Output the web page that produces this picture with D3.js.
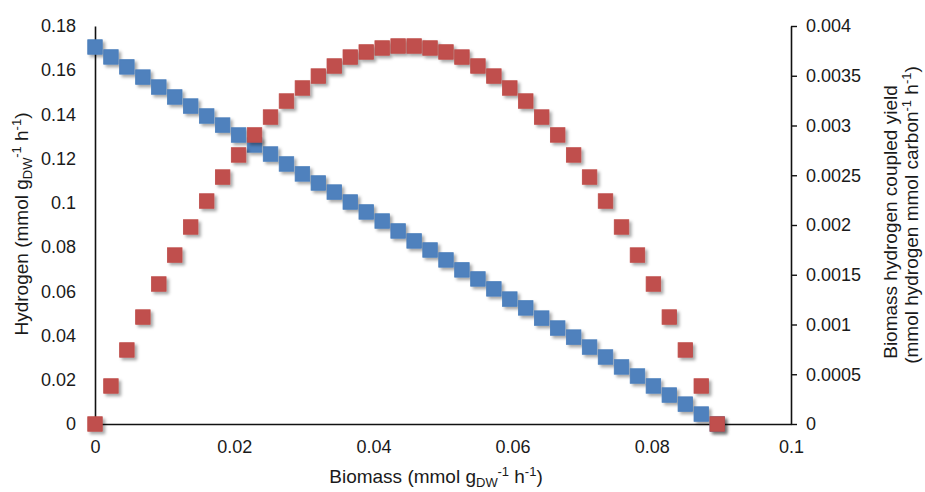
<!DOCTYPE html>
<html>
<head>
<meta charset="utf-8">
<script src="https://cdn.jsdelivr.net/npm/d3@7/dist/d3.min.js"></script>
<style>
  body { margin: 0; background: #fff; }
  text { font-family: "Liberation Sans", Arial, sans-serif; fill: #1a1a1a; }
</style>
</head>
<body>
<svg id="chart" width="925" height="492"></svg>
<script>
// biomass flux (x) for each point
var biomass = [0, 0.00229, 0.00458, 0.00688, 0.00917, 0.01146, 0.01375, 0.01605, 0.01834, 0.02063,
  0.02292, 0.02522, 0.02751, 0.0298, 0.03209, 0.03438, 0.03668, 0.03897, 0.04126, 0.04355,
  0.04585, 0.04814, 0.05043, 0.05272, 0.05502, 0.05731, 0.0596, 0.06189, 0.06418, 0.06648,
  0.06877, 0.07106, 0.07335, 0.07565, 0.07794, 0.08023, 0.08252, 0.08482, 0.08711, 0.0894];

// hydrogen flux (left axis)
var hydrogen = [0.1705, 0.166, 0.1615, 0.1569, 0.1524, 0.1479, 0.1438, 0.1393, 0.1352, 0.1307,
  0.1262, 0.1221, 0.1176, 0.1131, 0.109, 0.1049, 0.1004, 0.0959, 0.0918, 0.0873,
  0.0828, 0.0787, 0.0742, 0.0697, 0.0656, 0.0611, 0.0565, 0.0525, 0.0479, 0.0434,
  0.0393, 0.0348, 0.0303, 0.0258, 0.0217, 0.0172, 0.0131, 0.009, 0.0045, 0];

// biomass hydrogen coupled yield (right axis)
var coupledYield = [0, 0.000382, 0.000744, 0.001075, 0.001407, 0.001698, 0.00198, 0.002241, 0.002482, 0.002704,
  0.002905, 0.003085, 0.003246, 0.003377, 0.003497, 0.003598, 0.003688, 0.003739, 0.003779, 0.003799,
  0.003799, 0.003779, 0.003739, 0.003688, 0.003598, 0.003497, 0.003377, 0.003246, 0.003085, 0.002905,
  0.002704, 0.002482, 0.002241, 0.00198, 0.001698, 0.001407, 0.001075, 0.000744, 0.000382, 0];

// tick values
var xTicks = [0, 0.02, 0.04, 0.06, 0.08, 0.1];
var leftTicks = [0, 0.02, 0.04, 0.06, 0.08, 0.1, 0.12, 0.14, 0.16, 0.18];
var rightTicks = [0, 0.0005, 0.001, 0.0015, 0.002, 0.0025, 0.003, 0.0035, 0.004];

var svg = d3.select('#chart');

var x = d3.scaleLinear().domain([0, 0.1]).range([95, 791]);
var yLeft = d3.scaleLinear().domain([0, 0.18]).range([424, 26]);
var yRight = d3.scaleLinear().domain([0, 0.004]).range([424, 26]);

function fmt(d) { return String(+d.toFixed(5)); }

// shadow for the markers
var filter = svg.append('defs').append('filter')
  .attr('id', 'shadow')
  .attr('x', '-50%').attr('y', '-50%')
  .attr('width', '200%').attr('height', '200%');
filter.append('feDropShadow')
  .attr('dx', 2.5).attr('dy', 2.5)
  .attr('stdDeviation', 1.6)
  .attr('flood-color', '#000')
  .attr('flood-opacity', 0.35);

// axes
var gx = svg.append('g')
  .attr('transform', 'translate(0,424)')
  .call(d3.axisBottom(x).tickValues(xTicks).tickSize(0).tickPadding(16).tickFormat(fmt));

var gl = svg.append('g')
  .attr('transform', 'translate(95,0)')
  .call(d3.axisLeft(yLeft).tickValues(leftTicks).tickSize(0).tickPadding(19).tickFormat(fmt));

var gr = svg.append('g')
  .attr('transform', 'translate(791,0)')
  .call(d3.axisRight(yRight).tickValues(rightTicks).tickSize(6).tickSizeOuter(0).tickPadding(9).tickFormat(fmt));

[gx, gl, gr].forEach(function (g) {
  g.select('.domain').attr('stroke', '#111').attr('stroke-width', 1.6);
  g.selectAll('.tick line').attr('stroke', '#111').attr('stroke-width', 1.4);
  g.selectAll('.tick text').attr('font-size', 18).attr('fill', '#1a1a1a')
    .style('font-family', '"Liberation Sans", Arial, sans-serif');
});

// markers
var size = 14.5;
var points = biomass.map(function (b, i) {
  return { x: b, h: hydrogen[i], y: coupledYield[i] };
});

svg.append('g').selectAll('rect')
  .data(points)
  .enter()
  .append('rect')
  .attr('x', function (d) { return x(d.x) - size / 2; })
  .attr('y', function (d) { return yLeft(d.h) - size / 2; })
  .attr('width', size)
  .attr('height', size)
  .attr('fill', '#4F81BD')
  .attr('stroke', '#4A7EBB')
  .attr('stroke-width', 0.8)
  .attr('filter', 'url(#shadow)');

svg.append('g').selectAll('rect')
  .data(points)
  .enter()
  .append('rect')
  .attr('x', function (d) { return x(d.x) - size / 2; })
  .attr('y', function (d) { return yRight(d.y) - size / 2; })
  .attr('width', size)
  .attr('height', size)
  .attr('fill', '#C0504D')
  .attr('stroke', '#BE4B48')
  .attr('stroke-width', 0.8)
  .attr('filter', 'url(#shadow)');

// titles with sub/superscripts
function richText(el, parts) {
  var shift = 0;
  parts.forEach(function (p) {
    var target = p[1] === 'sub' ? 4 : p[1] === 'sup' ? -7 : 0;
    el.append('tspan')
      .attr('dy', target - shift)
      .attr('font-size', p[1] ? 13 : 19)
      .text(p[0]);
    shift = target;
  });
}

var unitParts = [['(mmol g', ''], ['DW', 'sub'], ['-1', 'sup'], [' h', ''], ['-1', 'sup'], [')', '']];

var bottomTitle = svg.append('text')
  .attr('x', 436).attr('y', 483)
  .attr('text-anchor', 'middle')
  .attr('font-size', 19);
richText(bottomTitle, [['Biomass ', '']].concat(unitParts));

var leftTitle = svg.append('text')
  .attr('transform', 'translate(28,224) rotate(-90)')
  .attr('text-anchor', 'middle')
  .attr('font-size', 19);
richText(leftTitle, [['Hydrogen ', '']].concat(unitParts));

svg.append('text')
  .attr('transform', 'translate(897,222) rotate(-90)')
  .attr('text-anchor', 'middle')
  .attr('font-size', 19)
  .text('Biomass hydrogen coupled yield');

var rightTitle2 = svg.append('text')
  .attr('transform', 'translate(918,215) rotate(-90)')
  .attr('text-anchor', 'middle')
  .attr('font-size', 19);
richText(rightTitle2, [['(mmol hydrogen mmol carbon', ''], ['-1', 'sup'], [' h', ''], ['-1', 'sup'], [')', '']]);
</script>
</body>
</html>
